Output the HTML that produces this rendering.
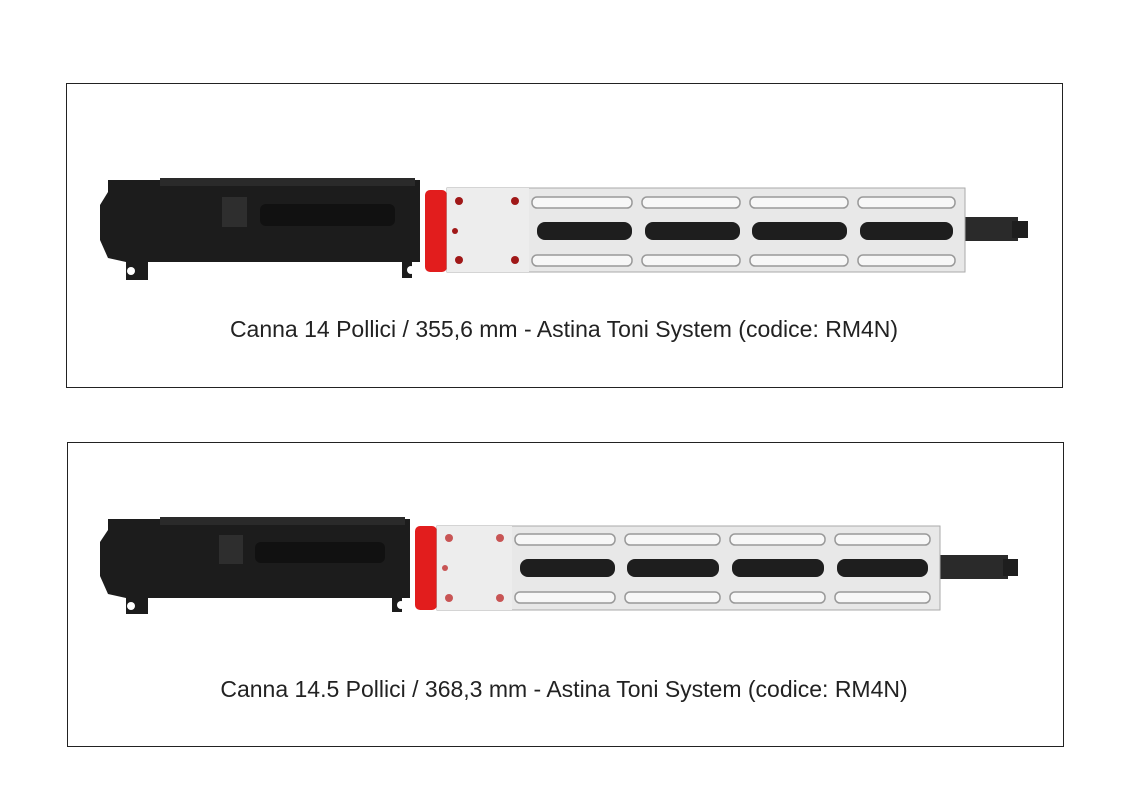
<!DOCTYPE html>
<html><head><meta charset="utf-8"><style>
html,body{margin:0;padding:0;background:#fff;}
body{width:1128px;height:799px;position:relative;overflow:hidden;font-family:"Liberation Sans",sans-serif;}
.box{position:absolute;border:1.5px solid #222;box-sizing:border-box;}
.cap{position:absolute;left:0;width:100%;text-align:center;font-size:23px;color:#222;}
svg{position:absolute;left:0;top:0;}
</style></head><body>
<div class="box" style="left:66px;top:83px;width:997px;height:305px;"></div>
<div class="box" style="left:67px;top:442px;width:997px;height:305px;"></div>
<div class="cap" style="top:316px;left:0;width:1128px;">Canna 14 Pollici / 355,6 mm - Astina Toni System (codice: RM4N)</div>
<div class="cap" style="top:676px;left:0;width:1128px;">Canna 14.5 Pollici / 368,3 mm - Astina Toni System (codice: RM4N)</div>
<svg width="1128" height="799" viewBox="0 0 1128 799">
<!-- Rifle 1 -->
<g>
<rect x="963" y="217" width="55" height="24" fill="#2a2a2a"/>
<rect x="1012" y="221" width="16" height="17" fill="#1e1e1e"/>
<path d="M108 180 H420 V262 H412 V278 H402 V262 H148 V280 H126 V262 L108 258 L100 240 V205 L108 192 Z" fill="#1c1c1c"/>
<rect x="160" y="178" width="255" height="8" fill="#2a2a2a"/>
<rect x="260" y="204" width="135" height="22" rx="6" fill="#111"/>
<rect x="222" y="197" width="25" height="30" fill="#2e2e2e"/>
<circle cx="131" cy="271" r="4" fill="#fff"/><circle cx="411" cy="270" r="4" fill="#fff"/>
<rect x="425" y="190" width="22" height="82" rx="5" fill="#e21d1d"/>
<rect x="447" y="188" width="518" height="84" fill="#e8e8e8" stroke="#aaa"/>
<rect x="447" y="188" width="82" height="84" fill="#ededed"/>
<g fill="#f7f7f7" stroke="#999" stroke-width="1.5">
<rect x="532" y="197" width="100" height="11" rx="5"/><rect x="642" y="197" width="98" height="11" rx="5"/><rect x="750" y="197" width="98" height="11" rx="5"/><rect x="858" y="197" width="97" height="11" rx="5"/>
<rect x="532" y="255" width="100" height="11" rx="5"/><rect x="642" y="255" width="98" height="11" rx="5"/><rect x="750" y="255" width="98" height="11" rx="5"/><rect x="858" y="255" width="97" height="11" rx="5"/>
</g>
<g fill="#1e1e1e">
<rect x="537" y="222" width="95" height="18" rx="8"/><rect x="645" y="222" width="95" height="18" rx="8"/><rect x="752" y="222" width="95" height="18" rx="8"/><rect x="860" y="222" width="93" height="18" rx="8"/>
</g>
<g fill="#a01818"><circle cx="459" cy="201" r="4"/><circle cx="515" cy="201" r="4"/><circle cx="459" cy="260" r="4"/><circle cx="515" cy="260" r="4"/><circle cx="455" cy="231" r="3"/></g>
</g>
<!-- Rifle 2 -->
<g>
<rect x="938" y="555" width="70" height="24" fill="#2a2a2a"/>
<rect x="1003" y="559" width="15" height="17" fill="#1e1e1e"/>
<path d="M108 519 H410 V598 H402 V612 H392 V598 H148 V614 H126 V598 L108 594 L100 576 V542 L108 530 Z" fill="#1c1c1c"/>
<rect x="160" y="517" width="245" height="8" fill="#2a2a2a"/>
<rect x="255" y="542" width="130" height="21" rx="6" fill="#111"/>
<rect x="219" y="535" width="24" height="29" fill="#2e2e2e"/>
<circle cx="131" cy="606" r="4" fill="#fff"/><circle cx="401" cy="605" r="4" fill="#fff"/>
<rect x="415" y="526" width="22" height="84" rx="5" fill="#e21d1d"/>
<rect x="437" y="526" width="503" height="84" fill="#e8e8e8" stroke="#aaa"/>
<rect x="437" y="526" width="75" height="84" fill="#ededed"/>
<g fill="#f7f7f7" stroke="#999" stroke-width="1.5">
<rect x="515" y="534" width="100" height="11" rx="5"/><rect x="625" y="534" width="95" height="11" rx="5"/><rect x="730" y="534" width="95" height="11" rx="5"/><rect x="835" y="534" width="95" height="11" rx="5"/>
<rect x="515" y="592" width="100" height="11" rx="5"/><rect x="625" y="592" width="95" height="11" rx="5"/><rect x="730" y="592" width="95" height="11" rx="5"/><rect x="835" y="592" width="95" height="11" rx="5"/>
</g>
<g fill="#1e1e1e">
<rect x="520" y="559" width="95" height="18" rx="8"/><rect x="627" y="559" width="92" height="18" rx="8"/><rect x="732" y="559" width="92" height="18" rx="8"/><rect x="837" y="559" width="91" height="18" rx="8"/>
</g>
<g fill="#c03030" opacity="0.8"><circle cx="449" cy="538" r="4"/><circle cx="500" cy="538" r="4"/><circle cx="449" cy="598" r="4"/><circle cx="500" cy="598" r="4"/><circle cx="445" cy="568" r="3"/></g>
</g>
</svg>
</body></html>
